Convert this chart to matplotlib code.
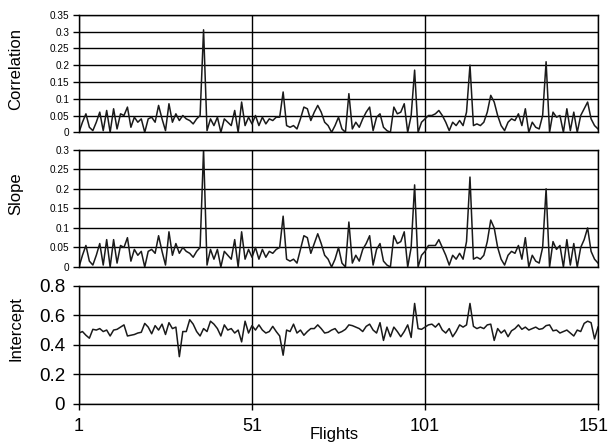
import matplotlib
matplotlib.use("Agg")
import matplotlib.pyplot as plt
import matplotlib.transforms as mtransforms
import numpy as np

# --- data ---
flights = np.arange(1, 152)

correlation = [
    0.00, 0.03, 0.055, 0.015, 0.005, 0.03, 0.06, 0.005, 0.065, 0.00,
    0.07, 0.01, 0.055, 0.05, 0.075, 0.015, 0.045, 0.03, 0.04, 0.00,
    0.04, 0.045, 0.03, 0.08, 0.04, 0.005, 0.085, 0.03, 0.055, 0.035,
    0.05, 0.04, 0.035, 0.025, 0.04, 0.05, 0.305, 0.005, 0.04, 0.02,
    0.045, 0.00, 0.04, 0.03, 0.02, 0.065, 0.00, 0.09, 0.02, 0.045,
    0.025, 0.05, 0.02, 0.045, 0.025, 0.04, 0.035, 0.045, 0.045, 0.12,
    0.02, 0.015, 0.02, 0.01, 0.04, 0.075, 0.07, 0.035, 0.06, 0.08,
    0.06, 0.03, 0.02, 0.00, 0.02, 0.045, 0.01, 0.00, 0.115, 0.01,
    0.03, 0.015, 0.04, 0.06, 0.075, 0.005, 0.045, 0.055, 0.015, 0.005,
    0.00, 0.075, 0.055, 0.06, 0.085, 0.00, 0.05, 0.185, 0.00, 0.03,
    0.04, 0.05, 0.05, 0.055, 0.065, 0.05, 0.03, 0.005, 0.03, 0.02,
    0.035, 0.02, 0.06, 0.20, 0.02, 0.025, 0.02, 0.03, 0.06, 0.11,
    0.09, 0.05, 0.02, 0.005, 0.03, 0.04, 0.035, 0.055, 0.02, 0.07,
    0.00, 0.03, 0.015, 0.01, 0.05, 0.21, 0.00, 0.06, 0.045, 0.05,
    0.00, 0.07, 0.005, 0.06, 0.00, 0.05, 0.07, 0.09, 0.04, 0.02,
    0.01,
]

slope = [
    0.00, 0.03, 0.055, 0.015, 0.005, 0.03, 0.06, 0.005, 0.07, 0.00,
    0.07, 0.01, 0.055, 0.05, 0.075, 0.015, 0.045, 0.03, 0.04, 0.00,
    0.04, 0.045, 0.035, 0.08, 0.04, 0.005, 0.09, 0.03, 0.06, 0.035,
    0.05, 0.04, 0.035, 0.025, 0.04, 0.05, 0.30, 0.005, 0.045, 0.02,
    0.045, 0.00, 0.04, 0.03, 0.02, 0.07, 0.00, 0.09, 0.02, 0.045,
    0.025, 0.05, 0.02, 0.045, 0.025, 0.04, 0.035, 0.045, 0.05, 0.13,
    0.02, 0.015, 0.02, 0.01, 0.045, 0.08, 0.075, 0.035, 0.06, 0.085,
    0.06, 0.03, 0.02, 0.00, 0.02, 0.05, 0.01, 0.00, 0.115, 0.01,
    0.03, 0.015, 0.045, 0.06, 0.08, 0.005, 0.045, 0.06, 0.015, 0.005,
    0.00, 0.08, 0.06, 0.065, 0.09, 0.00, 0.05, 0.21, 0.00, 0.03,
    0.04, 0.055, 0.055, 0.055, 0.07, 0.05, 0.03, 0.005, 0.03, 0.02,
    0.035, 0.02, 0.065, 0.23, 0.02, 0.025, 0.02, 0.03, 0.065, 0.12,
    0.10, 0.05, 0.02, 0.005, 0.03, 0.04, 0.035, 0.055, 0.02, 0.075,
    0.00, 0.03, 0.015, 0.01, 0.05, 0.20, 0.00, 0.065, 0.045, 0.055,
    0.00, 0.07, 0.005, 0.06, 0.00, 0.05, 0.07, 0.10, 0.04, 0.02,
    0.01,
]

intercept = [
    0.48, 0.49, 0.465, 0.445, 0.505, 0.50, 0.51, 0.49, 0.50, 0.46,
    0.50, 0.505, 0.52, 0.535, 0.46, 0.465, 0.47, 0.48, 0.485, 0.545,
    0.52, 0.475, 0.53, 0.50, 0.54, 0.47, 0.55, 0.51, 0.52, 0.32,
    0.49, 0.49, 0.57, 0.54, 0.49, 0.46, 0.51, 0.49, 0.56, 0.54,
    0.51, 0.46, 0.535, 0.50, 0.51, 0.48, 0.50, 0.42, 0.56, 0.48,
    0.53, 0.50, 0.535, 0.50, 0.48, 0.49, 0.525, 0.49, 0.46, 0.33,
    0.50, 0.49, 0.54, 0.48, 0.50, 0.465, 0.49, 0.51, 0.51, 0.535,
    0.51, 0.48, 0.485, 0.50, 0.51, 0.48, 0.49, 0.505, 0.535, 0.53,
    0.52, 0.51, 0.49, 0.525, 0.54, 0.50, 0.48, 0.55, 0.43, 0.52,
    0.455, 0.52, 0.49, 0.455, 0.49, 0.535, 0.45, 0.68, 0.51, 0.505,
    0.52, 0.535, 0.54, 0.52, 0.545, 0.50, 0.48, 0.51, 0.455, 0.49,
    0.535, 0.52, 0.535, 0.68, 0.525, 0.51, 0.52, 0.51, 0.535, 0.54,
    0.43, 0.51, 0.48, 0.50, 0.455, 0.495, 0.51, 0.535, 0.505, 0.52,
    0.50, 0.51, 0.52, 0.505, 0.51, 0.53, 0.535, 0.495, 0.50, 0.48,
    0.49, 0.50, 0.48, 0.46, 0.50, 0.49, 0.545, 0.56, 0.55, 0.44,
    0.52,
]

x_ticks = [1, 51, 101, 151]
corr_ticks = [0, 0.05, 0.1, 0.15, 0.2, 0.25, 0.3, 0.35]
corr_labels = ["0", "0.05", "0.1", "0.15", "0.2", "0.25", "0.3", "0.35"]
slope_ticks = [0, 0.05, 0.1, 0.15, 0.2, 0.25, 0.3]
slope_labels = ["0", "0.05", "0.1", "0.15", "0.2", "0.25", "0.3"]
int_ticks = [0, 0.2, 0.4, 0.6, 0.8]
int_labels = ["0", "0.2", "0.4", "0.6", "0.8"]

plt.rcParams['font.family'] = ['Liberation Sans', 'DejaVu Sans']

fig = plt.figure(figsize=(6.11, 4.43), dpi=100)

left, width = 79 / 611, (598 - 79) / 611
panels = [
    # (bottom_px, top_px, values, ticks, labels, ylabel, tick font, label y)
    (132.3, 14.7, correlation, corr_ticks, corr_labels, "Correlation", 7.2, 69),
    (267.0, 149.7, slope, slope_ticks, slope_labels, "Slope", 7.2, 194),
    (404.0, 285.7, intercept, int_ticks, int_labels, "Intercept", 13.5, 329),
]

axes = []
for bot, top, vals, ticks, labels, ylab, tfs, ly in panels:
    ax = fig.add_axes([left, 1 - bot / 443, width, (bot - top) / 443])
    ax.plot(flights, vals, color='#1a1a1a', lw=1.1)
    ax.set_xlim(1, 151)
    ax.set_ylim(ticks[0], ticks[-1])
    ax.set_yticks(ticks)
    ax.set_yticklabels(labels, fontsize=tfs)
    ax.set_xticks(x_ticks)
    ax.grid(True, color='black', lw=1.0)
    for s in ax.spines.values():
        s.set_color('black')
        s.set_linewidth(1.0)
    pad = 3 if tfs < 10 else 6
    ax.tick_params(axis='y', length=4, width=1, pad=pad, colors='black')
    ax.tick_params(axis='x', length=4, width=1)
    fig.text(16 / 611, 1 - ly / 443, ylab, rotation=90, ha='center', va='center',
             fontsize=12)
    axes.append(ax)

for ax in axes[:2]:
    ax.tick_params(axis='x', labelbottom=False, length=0)

axes[2].set_xticklabels([str(t) for t in x_ticks], fontsize=13)
axes[2].tick_params(axis='x', pad=6)
# nudge the last label so it stays inside the canvas
last = axes[2].get_xticklabels()[-1]
last.set_transform(last.get_transform() +
                   mtransforms.ScaledTranslation(-4 / 100, 0, fig.dpi_scale_trans))
fig.text(334 / 611, 1 - 434 / 443, "Flights", ha='center', va='center', fontsize=12)

fig.savefig("out.png", dpi=100)
